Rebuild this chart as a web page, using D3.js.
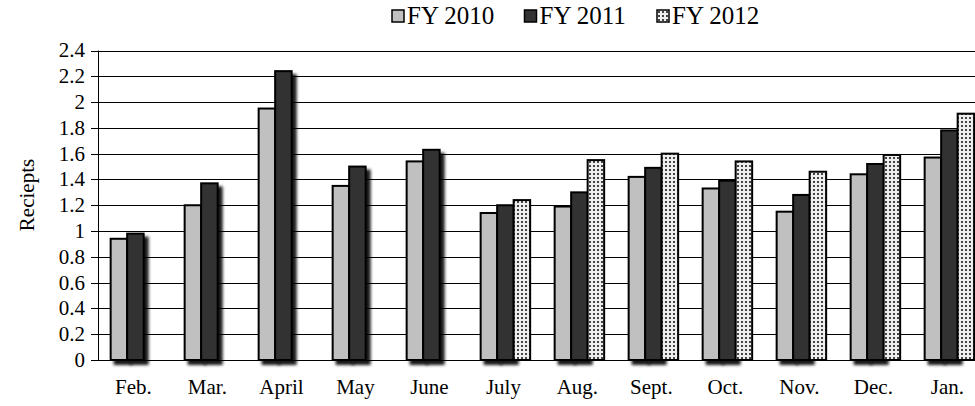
<!DOCTYPE html>
<html>
<head>
<meta charset="utf-8">
<script src="https://cdn.jsdelivr.net/npm/d3@7"></script>
<style>
  body { margin: 0; background: #fff; }
  svg { display: block; }
  svg text { font-family: "Liberation Serif", "Times New Roman", "DejaVu Serif", serif; fill: #000; }
</style>
</head>
<body>
<svg id="chart"></svg>
<script>
var months = ['Feb.', 'Mar.', 'April', 'May', 'June', 'July', 'Aug.', 'Sept.', 'Oct.', 'Nov.', 'Dec.', 'Jan.'];
var series = ['FY 2010', 'FY 2011', 'FY 2012'];
var fy2010 = [0.94, 1.20, 1.95, 1.35, 1.54, 1.14, 1.19, 1.42, 1.33, 1.15, 1.44, 1.57];
var fy2011 = [0.98, 1.37, 2.24, 1.50, 1.63, 1.20, 1.30, 1.49, 1.39, 1.28, 1.52, 1.78];
var fy2012 = [null, null, null, null, null, 1.24, 1.55, 1.60, 1.54, 1.46, 1.59, 1.91];
var yTicks = [0, 0.2, 0.4, 0.6, 0.8, 1, 1.2, 1.4, 1.6, 1.8, 2, 2.2, 2.4];

var W = 975, H = 406;
var font = '"Liberation Serif", "Times New Roman", serif';
var svg = d3.select('#chart').attr('width', W).attr('height', H)
    .attr('font-family', font);

var defs = svg.append('defs');
var f = defs.append('filter').attr('id', 'shadow')
    .attr('x', '-20%').attr('y', '-20%').attr('width', '160%').attr('height', '140%');
f.append('feDropShadow').attr('dx', 4).attr('dy', 4).attr('stdDeviation', 1.4)
    .attr('flood-color', '#000').attr('flood-opacity', 0.9);

var pat = defs.append('pattern').attr('id', 'dots')
    .attr('patternUnits', 'userSpaceOnUse').attr('width', 4).attr('height', 4);
pat.append('rect').attr('width', 4).attr('height', 4).attr('fill', '#eeeeee');
pat.append('rect').attr('x', 1).attr('y', 1).attr('width', 2).attr('height', 2).attr('fill', '#444');

var fills = ['#c0c0c0', '#333333', 'url(#dots)'];

var x = d3.scaleBand().domain(months).range([98.4, 98.4 + 74 * 12]);
var xs = d3.scaleBand().domain(series).range([12.25, 61.75]);
var y = d3.scaleLinear().domain([0, 2.4]).range([360, 50.5]);

// gridlines
svg.append('g')
    .selectAll('line')
    .data(yTicks)
    .join('line')
    .attr('x1', 91).attr('x2', W)
    .attr('y1', d => Math.round(y(d)) + 0.5).attr('y2', d => Math.round(y(d)) + 0.5)
    .attr('stroke', '#000').attr('stroke-width', 1);

svg.append('line')
    .attr('x1', 98.5).attr('x2', 98.5)
    .attr('y1', y(2.4)).attr('y2', y(0) + 0.5)
    .attr('stroke', '#000');

svg.append('g')
    .attr('text-anchor', 'end')
    .style('font-size', '21px')
    .selectAll('text')
    .data(yTicks)
    .join('text')
    .attr('x', 85)
    .attr('y', d => y(d))
    .attr('dy', '0.33em')
    .text(d => d);

svg.append('text')
    .attr('transform', 'translate(34,195) rotate(-90)')
    .attr('text-anchor', 'middle')
    .style('font-size', '21px')
    .text('Reciepts');

// bars
var data = [fy2010, fy2011, fy2012];
series.forEach(function (s, i) {
    svg.append('g')
        .attr('filter', i < 2 ? 'url(#shadow)' : null)
        .selectAll('rect')
        .data(months.map((m, j) => ({ m: m, v: data[i][j] })).filter(d => d.v != null))
        .join('rect')
        .attr('x', d => x(d.m) + xs(s))
        .attr('width', xs.bandwidth())
        .attr('y', d => y(d.v))
        .attr('height', d => y(0) - y(d.v))
        .attr('fill', fills[i])
        .attr('stroke', '#000')
        .attr('stroke-width', 2);
});

// month labels
svg.append('g')
    .attr('text-anchor', 'middle')
    .style('font-size', '21px')
    .selectAll('text')
    .data(months)
    .join('text')
    .attr('x', d => x(d) + x.bandwidth() / 2 - 2)
    .attr('y', 394)
    .text(d => d);

// legend
var lg = svg.append('g')
    .selectAll('g')
    .data(series)
    .join('g')
    .attr('transform', (d, i) => 'translate(' + (392 + i * 132.5) + ',10)');

lg.append('rect')
    .attr('width', 12).attr('height', 12)
    .attr('fill', (d, i) => fills[i])
    .attr('stroke', '#000').attr('stroke-width', 1.5);

lg.append('text')
    .attr('x', 15).attr('y', 14)
    .style('font-size', '25px')
    .text(d => d);
</script>
</body>
</html>
